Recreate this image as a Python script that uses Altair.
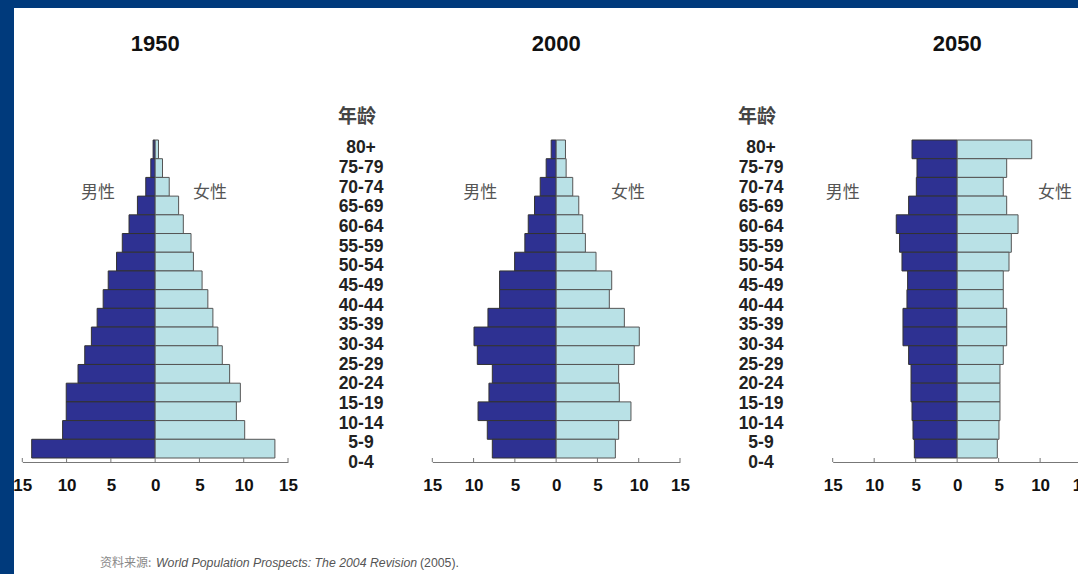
import altair as alt
import pandas as pd

# ---------------- data ----------------
ages = ["80+", "75-79", "70-74", "65-69", "60-64", "55-59", "50-54", "45-49",
        "40-44", "35-39", "30-34", "25-29", "20-24", "15-19", "10-14", "5-9", "0-4"]
years = ["1950", "2000", "2050"]

male_1950 = [0.23, 0.49, 1.06, 2.0, 2.95, 3.71, 4.36, 5.3, 5.87, 6.55, 7.2, 7.95, 8.71, 10.04, 10.04, 10.45, 13.94]
female_1950 = [0.38, 0.83, 1.59, 2.65, 3.18, 4.05, 4.32, 5.3, 5.95, 6.52, 7.08, 7.58, 8.41, 9.62, 9.17, 10.11, 13.52]

male_2000 = [0.6, 1.21, 1.93, 2.62, 3.38, 3.79, 5.03, 6.85, 6.85, 8.26, 9.95, 9.55, 7.73, 8.14, 9.46, 8.34, 7.73]
female_2000 = [1.13, 1.21, 2.01, 2.74, 3.22, 3.54, 4.83, 6.73, 6.44, 8.26, 10.07, 9.46, 7.57, 7.65, 9.06, 7.57, 7.17]

male_2050 = [5.44, 4.84, 4.92, 5.85, 7.34, 6.94, 6.65, 5.97, 6.05, 6.53, 6.53, 5.85, 5.56, 5.56, 5.44, 5.32, 5.16]
female_2050 = [8.99, 5.97, 5.56, 5.97, 7.34, 6.53, 6.25, 5.56, 5.56, 5.97, 5.97, 5.56, 5.16, 5.16, 5.16, 5.04, 4.84]

tick_values = [-15, -10, -5, 0, 5, 10, 15]
sex_labels = ["男性", "女性"]
age_header = "年龄"
source_prefix = "资料来源: "
source_title = "World Population Prospects: The 2004 Revision"
source_suffix = "(2005)."

# ---------------- layout / style ----------------
NAVY = "#003A7C"
MALE = "#2E3192"
FEMALE = "#B9E1E6"
LATIN = "Liberation Sans"
CJK = "Noto Sans CJK SC"

W = 1064          # plot width (page width minus left border)
FULL_H = 566      # white area height
H = 454           # plot height: x axis line sits at its bottom
X_RANGES = {"1950": [8.3, 274.0], "2000": [418.3, 666.0], "2050": [818.7, 1067.6]}
SEX_POS = {"1950": [-6.45, 6.2], "2000": [-9.2, 8.7], "2050": [-13.8, 11.8]}
BAR_Y_RANGE = [132, 450]
LABEL_Y_RANGE = [130.3, 465]
LABEL_X = [347, 747]
TICK_LEN = 4


def make_axis():
    return alt.Axis(values=tick_values, labelExpr="abs(datum.value)", orient="bottom",
                    title=None, grid=False, domainColor="#777", ticks=False, tickSize=0,
                    labelPadding=15, labelFont=LATIN, labelFontSize=17,
                    labelFontWeight="bold", labelColor="#111", labelFlush=False,
                    labelOverlap=False, zindex=1)


def pyramid(year, male, female):
    df = pd.DataFrame({"age": ages, "male": male, "female": female})
    xs = alt.Scale(domain=[-15, 15], range=X_RANGES[year], nice=False, zero=False)
    ys = alt.Scale(domain=ages, range=BAR_Y_RANGE, paddingInner=0, paddingOuter=0)
    axis = make_axis()
    base = alt.Chart(df)
    male_bars = base.transform_calculate(neg="-datum.male").mark_bar(
        color=MALE, stroke="#333", strokeWidth=1
    ).encode(
        x=alt.X("neg:Q", scale=xs, axis=axis),
        x2=alt.datum(0),
        y=alt.Y("age:N", scale=ys, axis=None, sort=ages),
    )
    female_bars = base.mark_bar(color=FEMALE, stroke="#555", strokeWidth=1).encode(
        x=alt.X("female:Q", scale=xs, axis=axis),
        x2=alt.datum(0),
        y=alt.Y("age:N", scale=ys, axis=None, sort=ages),
    )
    # upward tick marks on the axis line
    ticks = alt.Chart(pd.DataFrame({"v": tick_values})).mark_rule(
        color="#777", strokeWidth=1
    ).encode(x=alt.X("v:Q", axis=axis), y=alt.value(H - TICK_LEN), y2=alt.value(H))
    title = alt.Chart(pd.DataFrame({"t": [year], "pos": [0]})).mark_text(
        font=LATIN, fontSize=22, fontWeight="bold", color="#111", baseline="middle"
    ).encode(x=alt.X("pos:Q", axis=axis), y=alt.value(36), text="t:N")
    sex = alt.Chart(pd.DataFrame({"lab": sex_labels, "pos": SEX_POS[year]})).mark_text(
        font=CJK, fontSize=17, color="#555", baseline="middle"
    ).encode(x=alt.X("pos:Q", axis=axis), y=alt.value(185), text="lab:N")
    return alt.layer(male_bars, female_bars, ticks, title, sex)


def age_labels(xpos):
    df = pd.DataFrame({"age": ages})
    labels = alt.Chart(df).mark_text(
        font=LATIN, fontSize=17.5, fontWeight="bold", color="#222", baseline="middle"
    ).encode(
        x=alt.value(xpos),
        y=alt.Y("age:N", scale=alt.Scale(domain=ages, range=LABEL_Y_RANGE,
                                         paddingInner=0, paddingOuter=0), axis=None),
        text="age:N",
    )
    header = alt.Chart(pd.DataFrame({"t": [age_header]})).mark_text(
        font=CJK, fontSize=19, fontWeight="bold", color="#444", baseline="middle"
    ).encode(x=alt.value(xpos - 4), y=alt.value(109), text="t:N")
    return alt.layer(labels, header)


# white band below the plot area (the view fill covers only the plot area)
white_band = alt.Chart(pd.DataFrame({"k": [0]})).mark_rect(color="white").encode(
    x=alt.value(0), x2=alt.value(W), y=alt.value(H), y2=alt.value(FULL_H)
)

foot_y = 555
foot1 = alt.Chart(pd.DataFrame({"t": [source_prefix]})).mark_text(
    font=CJK, fontSize=12, color="#888", align="left", baseline="middle"
).encode(x=alt.value(86), y=alt.value(foot_y), text="t:N")
foot2 = alt.Chart(pd.DataFrame({"t": [source_title]})).mark_text(
    font=LATIN, fontSize=12.3, fontStyle="italic", color="#555", align="left", baseline="middle"
).encode(x=alt.value(142), y=alt.value(foot_y), text="t:N")
foot3 = alt.Chart(pd.DataFrame({"t": [source_suffix]})).mark_text(
    font=LATIN, fontSize=12.3, color="#555", align="left", baseline="middle"
).encode(x=alt.value(406), y=alt.value(foot_y), text="t:N")

chart = alt.layer(
    white_band,
    pyramid("1950", male_1950, female_1950),
    pyramid("2000", male_2000, female_2000),
    pyramid("2050", male_2050, female_2050),
    age_labels(LABEL_X[0]),
    age_labels(LABEL_X[1]),
    foot1, foot2, foot3,
).resolve_scale(x="independent", y="independent").properties(
    width=W, height=H,
    autosize=alt.AutoSizeParams(type="none"),
    padding={"left": 14, "top": 8, "right": 0, "bottom": FULL_H - H},
    background=NAVY,
).configure_view(fill="white", strokeWidth=0)

chart.save("out.html", embed_options={"renderer": "svg", "actions": False})
